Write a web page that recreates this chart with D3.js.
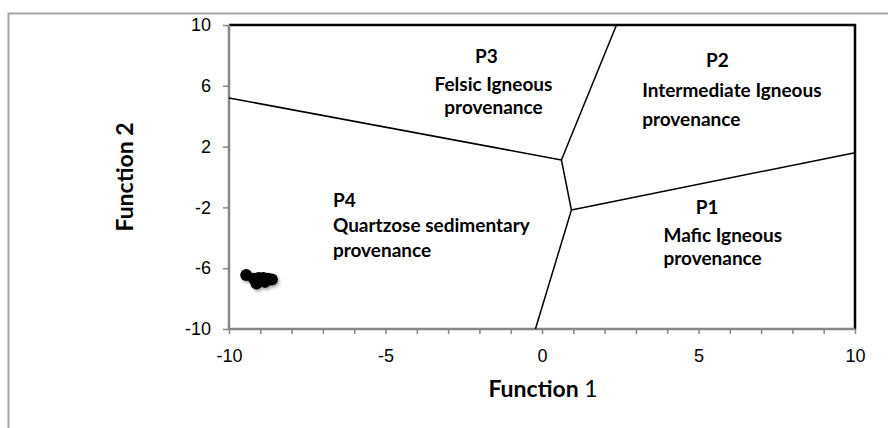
<!DOCTYPE html>
<html>
<head>
<meta charset="utf-8">
<script src="https://cdn.jsdelivr.net/npm/d3@7"></script>
<style>
  body { margin: 0; background: #fff; }
  svg { display: block; font-family: Lato, "Open Sans", sans-serif; }
  .tick-label { font-size: 18px; fill: #000; }
  .region { font-size: 19px; font-weight: bold; fill: #000; }
  .axis-title { font-size: 23px; font-weight: bold; fill: #000; }
</style>
</head>
<body>
<svg id="chart" width="888" height="428"></svg>
<script>
// discriminant function axes
const xDomain = [-10, 10];
const yDomain = [-10, 10];
const xTickLabels = [-10, -5, 0, 5, 10];
const yTickLabels = [10, 6, 2, -2, -6, -10];
const xMinorTicks = [-10, -9, -8, -7, -6, -5, -4, -3, -2, -1, 0, 1, 2, 3, 4, 5, 6, 7, 8, 9, 10];

// field boundaries [function1, function2]
const boundaryP4P3 = [[-10, 5.2], [0.62, 1.12]];
const boundaryP3P2 = [[0.62, 1.12], [2.38, 10]];
const boundaryMiddle = [[0.62, 1.12], [0.94, -2.17]];
const boundaryP2P1 = [[0.94, -2.17], [10, 1.6]];
const boundaryP4P1 = [[0.94, -2.17], [-0.21, -10]];

// samples
const sampleF1 = [-9.45, -9.2, -9.05, -8.9, -8.75, -8.63, -9.12, -8.85];
const sampleF2 = [-6.45, -6.7, -6.65, -6.65, -6.7, -6.75, -7.0, -6.9];

// field labels, positioned in function units (first baseline)
const fieldLabels = [
    { x: -1.78, y: 7.5, anchor: 'middle', lines: ['P3'], gaps: [0] },
    { x: -1.55, y: 5.66, anchor: 'middle', lines: ['Felsic Igneous', 'provenance'], gaps: [0, 23] },
    { x: 5.6, y: 7.24, anchor: 'middle', lines: ['P2'], gaps: [0] },
    { x: 3.2, y: 5.26, anchor: 'start', lines: ['Intermediate Igneous', 'provenance'], gaps: [0, 29] },
    { x: -6.68, y: -1.97, anchor: 'start', lines: ['P4', 'Quartzose sedimentary', 'provenance'], gaps: [0, 25, 25] },
    { x: 5.28, y: -2.43, anchor: 'middle', lines: ['P1'], gaps: [0] },
    { x: 3.88, y: -4.28, anchor: 'start', lines: ['Mafic Igneous', 'provenance'], gaps: [0, 23] }
];

const svg = d3.select('#chart');
const margin = { top: 25, right: 33, bottom: 99, left: 229 };
const width = 888 - margin.left - margin.right;
const height = 428 - margin.top - margin.bottom;

// outer chart frame (runs off the page right/bottom)
svg.append('path')
    .attr('d', 'M8.5,440 L8.5,13.5 L900,13.5')
    .attr('fill', 'none')
    .attr('stroke', '#a6a6a6')
    .attr('stroke-width', 2);

const g = svg.append('g')
    .attr('transform', `translate(${margin.left}, ${margin.top})`);

const x = d3.scaleLinear().domain(xDomain).range([0, width]);
const y = d3.scaleLinear().domain(yDomain).range([height, 0]);

// plot area border (top + right black)
g.append('path')
    .attr('d', `M0,0 L${width},0 L${width},${height}`)
    .attr('fill', 'none')
    .attr('stroke', '#000')
    .attr('stroke-width', 2.5);

// y axis
const yAxis = g.append('g')
    .call(d3.axisLeft(y).tickValues(yTickLabels).tickSize(6).tickPadding(12).tickFormat(d => String(d)));
yAxis.select('.domain').remove();
yAxis.selectAll('line').attr('stroke', '#868686').attr('stroke-width', 1.5);
yAxis.selectAll('text').attr('class', 'tick-label');

// x axis
const xAxis = g.append('g')
    .attr('transform', `translate(0, ${height})`)
    .call(d3.axisBottom(x).tickValues(xMinorTicks).tickSize(5).tickPadding(15)
        .tickFormat(d => xTickLabels.includes(d) ? String(d) : ''));
xAxis.select('.domain').remove();
xAxis.selectAll('line').attr('stroke', '#868686').attr('stroke-width', 1.5);
xAxis.selectAll('text').attr('class', 'tick-label');

// axis lines
g.append('line')
    .attr('x1', 0).attr('x2', 0).attr('y1', 0).attr('y2', height + 1)
    .attr('stroke', '#868686').attr('stroke-width', 2.5);
g.append('line')
    .attr('x1', 0).attr('x2', width).attr('y1', height).attr('y2', height)
    .attr('stroke', '#868686').attr('stroke-width', 2.5);

// boundaries
const line = d3.line().x(d => x(d[0])).y(d => y(d[1]));
[boundaryP4P3, boundaryP3P2, boundaryMiddle, boundaryP2P1, boundaryP4P1].forEach(b => {
    g.append('path')
        .attr('d', line(b))
        .attr('fill', 'none')
        .attr('stroke', '#000')
        .attr('stroke-width', 1.5);
});

// field labels
fieldLabels.forEach(f => {
    const t = g.append('text')
        .attr('class', 'region')
        .attr('x', x(f.x))
        .attr('y', y(f.y))
        .attr('text-anchor', f.anchor);
    f.lines.forEach((s, i) => {
        t.append('tspan')
            .attr('x', x(f.x))
            .attr('dy', i === 0 ? 0 : f.gaps[i])
            .text(s);
    });
});

// sample markers with soft shadow
const defs = svg.append('defs');
const filter = defs.append('filter').attr('id', 'shadow')
    .attr('x', '-50%').attr('y', '-50%').attr('width', '200%').attr('height', '200%');
filter.append('feDropShadow')
    .attr('dx', 1.5).attr('dy', 2).attr('stdDeviation', 1.5)
    .attr('flood-color', '#000').attr('flood-opacity', 0.35);

g.append('g')
    .attr('filter', 'url(#shadow)')
    .selectAll('circle')
    .data(sampleF1.map((v, i) => [v, sampleF2[i]]))
    .join('circle')
    .attr('cx', d => x(d[0]))
    .attr('cy', d => y(d[1]))
    .attr('r', 6)
    .attr('fill', '#000');

// axis titles
svg.append('text')
    .attr('class', 'axis-title')
    .attr('transform', `translate(133, ${margin.top + height / 2}) rotate(-90)`)
    .attr('text-anchor', 'middle')
    .text('Function 2');

const xt = svg.append('text')
    .attr('class', 'axis-title')
    .attr('x', margin.left + width / 2 + 1)
    .attr('y', 397)
    .attr('text-anchor', 'middle');
xt.append('tspan').text('Function ');
xt.append('tspan').attr('font-weight', 'normal').text('1');
</script>
</body>
</html>
